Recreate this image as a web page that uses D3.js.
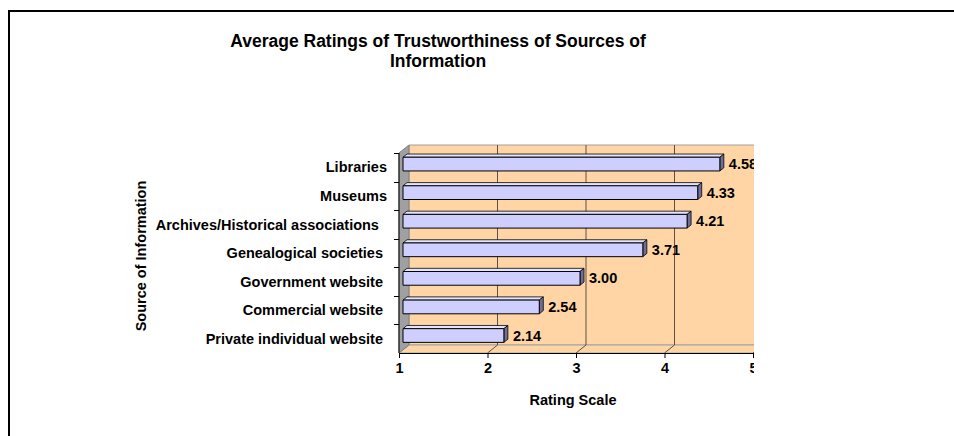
<!DOCTYPE html>
<html>
<head>
<meta charset="utf-8">
<script src="https://cdn.jsdelivr.net/npm/d3@7"></script>
<style>
  body { margin: 0; background: #fff; }
  text { font-family: "Liberation Sans", Arial, sans-serif; font-weight: bold; fill: #000; white-space: pre; }
</style>
</head>
<body>
<svg id="chart" width="954" height="436"></svg>
<script>
// chart data (labels keep the trailing spaces of the original sheet)
const categories = ['Libraries', 'Museums', 'Archives/Historical associations  ', 'Genealogical societies ',
  'Government website ', 'Commercial website ', 'Private individual website '];
const ratings = [4.58, 4.33, 4.21, 3.71, 3.00, 2.54, 2.14];
const xTicks = [1, 2, 3, 4, 5];
const titleLines = ['Average Ratings of Trustworthiness of Sources of', 'Information'];

const svg = d3.select('#chart');

// outer frame (left + top edges)
svg.append('path')
  .attr('d', 'M9,436 V11 H954')
  .attr('fill', 'none')
  .attr('stroke', '#000')
  .attr('stroke-width', 2);

// title
svg.append('text')
  .attr('text-anchor', 'middle')
  .attr('font-size', '17.5px')
  .selectAll('tspan')
  .data(titleLines)
  .enter()
  .append('tspan')
  .attr('x', 438)
  .attr('y', (d, i) => 47 + i * 20)
  .text(d => d);

// plot geometry
const plotLeft = 399, plotRight = 753, plotTop = 153, plotBottom = 353;
const depthX = 10, depthY = -8;   // 3d offset of back wall

const x = d3.scaleLinear().domain([1, 5]).range([plotLeft, plotRight]);
const y = d3.scaleBand().domain(categories).range([plotTop, plotBottom]).paddingInner(0.52).paddingOuter(0.26);

// projection of point at depth t (0 = front, 1 = back)
const P = (px, py, t) => [px + depthX * t, py + depthY * t];
const poly = pts => 'M' + pts.map(p => p.join(',')).join('L') + 'Z';

svg.append('defs').append('clipPath')
  .attr('id', 'plot-clip')
  .append('rect')
  .attr('x', 0).attr('y', 0)
  .attr('width', plotRight + 1).attr('height', 436);

const g = svg.append('g').attr('clip-path', 'url(#plot-clip)');

// back wall
g.append('path')
  .attr('d', poly([P(plotLeft, plotTop, 1), P(plotRight, plotTop, 1), P(plotRight, plotBottom, 1), P(plotLeft, plotBottom, 1)]))
  .attr('fill', '#FFD5A6')
  .attr('stroke', '#A0A0A0');

// floor
g.append('path')
  .attr('d', poly([P(plotLeft, plotBottom, 0), P(plotRight, plotBottom, 0), P(plotRight, plotBottom, 1), P(plotLeft, plotBottom, 1)]))
  .attr('fill', '#FFD5A6')
  .attr('stroke', '#A0A0A0');

// left side wall
g.append('path')
  .attr('d', poly([P(plotLeft, plotTop, 0), P(plotLeft, plotTop, 1), P(plotLeft, plotBottom, 1), P(plotLeft, plotBottom, 0)]))
  .attr('fill', '#A0A0A0')
  .attr('stroke', '#808080');

// gridlines on back wall and floor
xTicks.slice(1).forEach(v => {
  const a = P(x(v), plotTop, 1), b = P(x(v), plotBottom, 1), c = P(x(v), plotBottom, 0);
  g.append('path')
    .attr('d', `M${a}L${b}L${c}`)
    .attr('fill', 'none')
    .attr('stroke', '#5E5045')
    .attr('stroke-width', 1);
});

// bars
const t0 = 0.4, t1 = 0.8;
const bars = g.selectAll('.bar')
  .data(categories.map((c, i) => ({ cat: c, value: ratings[i] })))
  .enter()
  .append('g')
  .attr('class', 'bar');

// top face
bars.append('path')
  .attr('d', d => poly([P(x(1), y(d.cat), t0), P(x(d.value), y(d.cat), t0), P(x(d.value), y(d.cat), t1), P(x(1), y(d.cat), t1)]))
  .attr('fill', '#E4E4FF')
  .attr('stroke', '#000')
  .attr('stroke-width', 0.8);

// right end cap
bars.append('path')
  .attr('d', d => poly([P(x(d.value), y(d.cat), t0), P(x(d.value), y(d.cat), t1),
    P(x(d.value), y(d.cat) + y.bandwidth(), t1), P(x(d.value), y(d.cat) + y.bandwidth(), t0)]))
  .attr('fill', '#6F6F96')
  .attr('stroke', '#000')
  .attr('stroke-width', 0.8);

// front face
bars.append('path')
  .attr('d', d => poly([P(x(1), y(d.cat), t0), P(x(d.value), y(d.cat), t0),
    P(x(d.value), y(d.cat) + y.bandwidth(), t0), P(x(1), y(d.cat) + y.bandwidth(), t0)]))
  .attr('fill', '#CFCFFF')
  .attr('stroke', '#000')
  .attr('stroke-width', 1);

// value labels
bars.append('text')
  .attr('x', d => P(x(d.value), 0, t1)[0] + 5)
  .attr('y', d => P(0, y(d.cat) + y.bandwidth() / 2, t0)[1])
  .attr('dy', '0.35em')
  .attr('font-size', '14.5px')
  .text(d => d.value.toFixed(2));

// x axis along the front edge
const xAxis = g.append('g')
  .attr('transform', `translate(0,${plotBottom})`)
  .call(d3.axisBottom(x).tickValues(xTicks).tickFormat(d3.format('d')).tickSize(5).tickPadding(5).tickSizeOuter(0));
xAxis.select('.domain').attr('stroke', '#000');
xAxis.selectAll('text').attr('font-size', '14.5px').attr('font-family', '"Liberation Sans", Arial, sans-serif');

// y axis line and category ticks
const yAxis = svg.append('g');
yAxis.append('line')
  .attr('x1', plotLeft).attr('x2', plotLeft)
  .attr('y1', plotTop).attr('y2', plotBottom)
  .attr('stroke', '#000');
yAxis.selectAll('.ytick')
  .data(categories)
  .enter()
  .append('line')
  .attr('x1', plotLeft - 5).attr('x2', plotLeft)
  .attr('y1', d => Math.round(y(d) - y.step() * y.paddingInner() / 2) + 0.5)
  .attr('y2', d => Math.round(y(d) - y.step() * y.paddingInner() / 2) + 0.5)
  .attr('stroke', '#000');

// category labels
yAxis.selectAll('.ylabel')
  .data(categories)
  .enter()
  .append('text')
  .attr('x', 387)
  .attr('y', d => y(d) + y.bandwidth() / 2)
  .attr('dy', '0.35em')
  .attr('text-anchor', 'end')
  .attr('font-size', '14.5px')
  .text(d => d);

// axis titles
svg.append('text')
  .attr('x', 573)
  .attr('y', 405)
  .attr('text-anchor', 'middle')
  .attr('font-size', '14.5px')
  .text('Rating Scale');

svg.append('text')
  .attr('transform', 'translate(146,256) rotate(-90)')
  .attr('text-anchor', 'middle')
  .attr('font-size', '14.5px')
  .text('Source of Information');
</script>
</body>
</html>
